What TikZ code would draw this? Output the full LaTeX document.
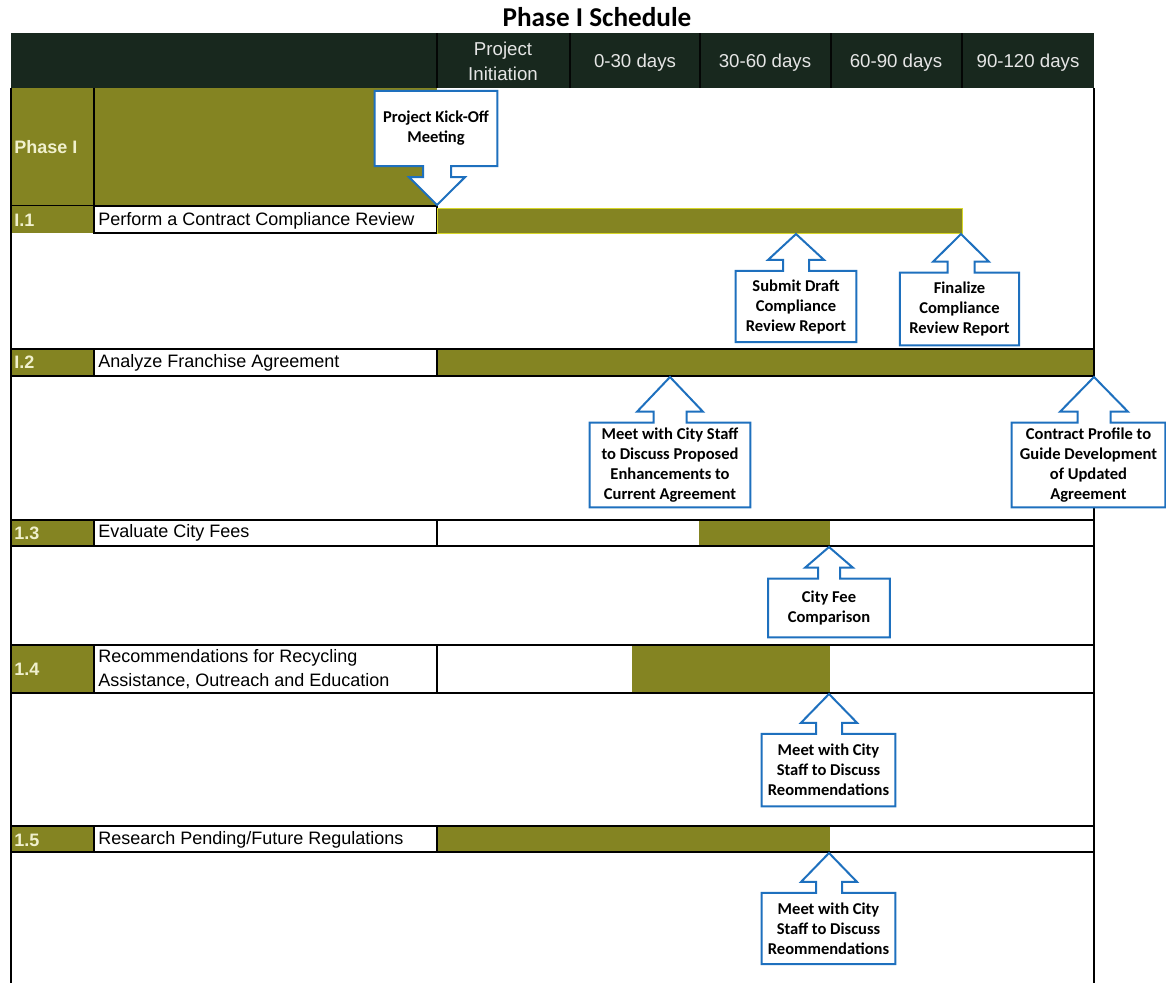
\documentclass[tikz,border=0pt]{standalone}
\usepackage{fontspec}
\setmainfont{Liberation Sans}
\newfontfamily\notefont{Carlito}
\usepackage{tikz}
\usetikzlibrary{positioning,calc,backgrounds}
\pgfdeclarelayer{background}
\pgfdeclarelayer{foreground}
\pgfsetlayers{background,main,foreground}
\usepackage[dvipsnames]{xcolor}

\definecolor{olivebar}{RGB}{132,132,34}
\definecolor{barrim}{RGB}{214,214,40}
\definecolor{headgreen}{RGB}{24,40,30}
\definecolor{noteblue}{RGB}{30,112,190}
\definecolor{labelcream}{RGB}{240,240,205}

% 上向き矢印つきの吹き出し: #1 箱, #2 矢印の先, #3 矢じり半幅, #4 軸半幅
\newcommand{\upnote}[4]{%
  \filldraw[notebox]
    (#1.north west) -- ($(#2 |- #1.north)+(-#4,0)$)
    -- ($(#2 |- #1.north)+(-#4,-11)$) -- ($(#2 |- #1.north)+(-#3,-11)$)
    -- (#2)
    -- ($(#2 |- #1.north)+(#3,-11)$) -- ($(#2 |- #1.north)+(#4,-11)$)
    -- ($(#2 |- #1.north)+(#4,0)$) -- (#1.north east)
    -- (#1.south east) -- (#1.south west) -- cycle;}

\begin{document}
\begin{tikzpicture}[
  x=0.75pt, y=-0.75pt,
  gridline/.style={line width=1.1pt, black},
  headsep/.style={line width=0.8pt, black!85!headgreen},
  headtext/.style={font=\fontsize{14}{18.75}\selectfont, text=white!90!black, align=center},
  rowlabel/.style={anchor=west, inner sep=0pt, text=labelcream,
    font=\bfseries\fontsize{13.5}{16}\selectfont},
  task/.style={anchor=west, inner sep=0pt, align=left,
    font=\fontsize{13.5}{18}\selectfont},
  note/.style={inner sep=0pt, align=center,
    font=\notefont\bfseries\fontsize{12.4}{15}\selectfont},
  notebox/.style={draw=noteblue, fill=white, line width=1.5pt, line join=miter}
]
\useasboundingbox (0,0) rectangle (1166,983);

% 表題
\node[font=\notefont\bfseries\fontsize{20.4}{24}\selectfont] (title) at (597,17) {Phase I Schedule};

% 見出し行
\fill[headgreen] (11,33) rectangle (1094,88);
\draw[headsep] (437,33) -- (437,88) (570,33) -- (570,88) (700,33) -- (700,88)
  (831,33) -- (831,88) (962,33) -- (962,88);
\node[headtext] (h0) at (503,61) {Project\\Initiation};
\node[headtext] (h1) at (635,63) {0-30 days};
\node[headtext] (h2) at (765,63) {30-60 days};
\node[headtext] (h3) at (896,63) {60-90 days};
\node[headtext] (h4) at (1028,63) {90-120 days};

% Phase I の帯
\fill[olivebar] (11,88) rectangle (437,206);
\draw[gridline] (94,88) -- (94,206) (11,206) -- (437,206);
\node[rowlabel] (ph) at (14,147) {Phase I};

% I.1
\fill[olivebar] (11,206) rectangle (94,233);
\draw[gridline,fill=white] (94,206) rectangle (437,233);
\filldraw[fill=olivebar,draw=barrim,line width=0.6pt] (437,208) rectangle (962,233);
\node[rowlabel] (l1) at (14,220) {I.1};
\node[task] (task1) at (98,221) {Perform a Contract Compliance Review};

% I.2
\fill[olivebar] (11,349) rectangle (94,376);
\fill[olivebar] (437,349) rectangle (1094,376);
\draw[gridline] (11,349) -- (1094,349) (11,376) -- (1094,376)
  (94,349) -- (94,376) (437,349) -- (437,376);
\node[rowlabel] (l2) at (14,362) {I.2};
\node[task] (task2) at (98,363) {Analyze Franchise Agreement};

% 1.3
\fill[olivebar] (11,520) rectangle (94,546);
\fill[olivebar] (699,520) rectangle (830,546);
\draw[gridline] (11,520) -- (1094,520) (11,546) -- (1094,546)
  (94,520) -- (94,546) (437,520) -- (437,546);
\node[rowlabel] (l3) at (14,533) {1.3};
\node[task] (task3) at (98,533) {Evaluate City Fees};

% 1.4
\fill[olivebar] (11,645) rectangle (94,693);
\fill[olivebar] (632,645) rectangle (830,693);
\draw[gridline] (11,645) -- (1094,645) (11,693) -- (1094,693)
  (94,645) -- (94,693) (437,645) -- (437,693);
\node[rowlabel] (l4) at (14,669) {1.4};
\node[task] (task4) at (98,669) {Recommendations for Recycling\\Assistance, Outreach and Education};

% 1.5
\fill[olivebar] (11,826) rectangle (94,852);
\fill[olivebar] (437,826) rectangle (830,852);
\draw[gridline] (11,826) -- (1094,826) (11,852) -- (1094,852)
  (94,826) -- (94,852) (437,826) -- (437,852);
\node[rowlabel] (l5) at (14,840) {1.5};
\node[task] (task5) at (98,840) {Research Pending/Future Regulations};

% 外枠
\draw[gridline] (11,88) -- (11,983) (1094,88) -- (1094,983);

% 矢印の先
\coordinate (t0) at (437,205);
\coordinate (t1) at (796,234);
\coordinate (t2) at (961,234);
\coordinate (t3) at (670,377);
\coordinate (t4) at (1094,377);
\coordinate (t5) at (829,547);
\coordinate (t6) at (829,694);
\coordinate (t7) at (829,853);

% 吹き出しの文字
\begin{pgfonlayer}{foreground}
\node[note,minimum width=91.5pt,minimum height=56pt] (kick) at (436,128.5) {Project Kick-Off\\Meeting};
\node[note,minimum width=90pt,minimum height=53pt] (draft) at (796,306.5) {Submit Draft\\Compliance\\Review Report};
\node[note,minimum width=89pt,minimum height=54pt] (final) at (959.5,309) {Finalize\\Compliance\\Review Report};
\node[note,minimum width=120pt,minimum height=63pt] (meetp) at (670,465) {Meet with City Staff\\to Discuss Proposed\\Enhancements to\\Current Agreement};
\node[note,minimum width=115pt,minimum height=63pt] (contract) at (1088.5,465) {Contract Profile to\\Guide Development\\of Updated\\Agreement};
\node[note,minimum width=91pt,minimum height=43.5pt] (fee) at (829,608) {City Fee\\Comparison};
\node[note,minimum width=100pt,minimum height=54pt] (meet4) at (828.5,770) {Meet with City\\Staff to Discuss\\Reommendations};
\node[note,minimum width=100pt,minimum height=53pt] (meet5) at (828.5,928.5) {Meet with City\\Staff to Discuss\\Reommendations};
\end{pgfonlayer}

% 吹き出しの枠
\filldraw[notebox]
  (kick.south west) -- (kick.north west) -- (kick.north east) -- (kick.south east)
  -- ($(t0 |- kick.south)+(14,0)$) -- ($(t0 |- kick.south)+(14,11)$)
  -- ($(t0 |- kick.south)+(28,11)$) -- (t0)
  -- ($(t0 |- kick.south)+(-28,11)$) -- ($(t0 |- kick.south)+(-14,11)$)
  -- ($(t0 |- kick.south)+(-14,0)$) -- cycle;
\upnote{draft}{t1}{28}{13}
\upnote{final}{t2}{28}{13.5}
\upnote{meetp}{t3}{33}{16.5}
\upnote{contract}{t4}{34}{16.5}
\upnote{fee}{t5}{24}{11}
\upnote{meet4}{t6}{28}{13}
\upnote{meet5}{t7}{28}{13}
\end{tikzpicture}
\end{document}
